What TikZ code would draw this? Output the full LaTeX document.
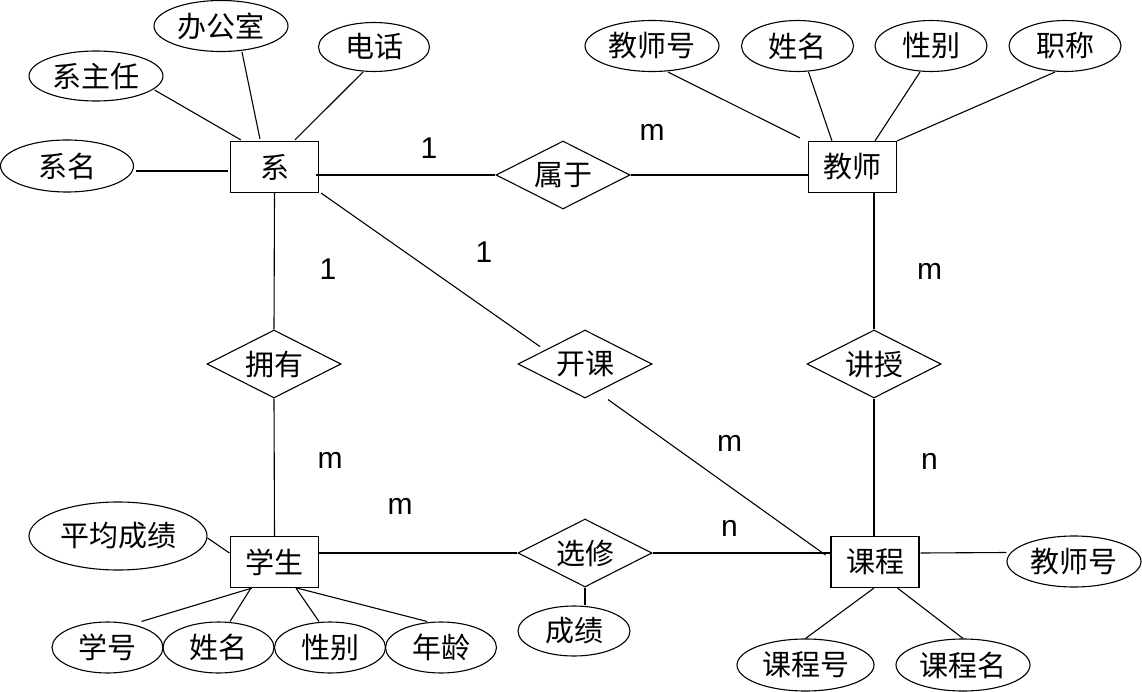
\documentclass[tikz,border=0pt]{standalone}
\usepackage{fontspec}
\setmainfont{Liberation Sans}
\newfontfamily\cjk{Noto Sans CJK SC}
\usetikzlibrary{shapes.geometric,calc}
\tikzset{
  entity/.style={draw, rectangle, line width=1.1pt, minimum width=88pt, minimum height=51pt, inner sep=0pt, font=\cjk\fontsize{29}{30}\selectfont},
  rel/.style={draw, diamond, aspect=2, line width=1.1pt, minimum width=134pt, minimum height=68pt, inner sep=0pt, font=\cjk\fontsize{29}{30}\selectfont},
  attr/.style={draw, ellipse, line width=1.1pt, minimum width=112pt, minimum height=51pt, inner sep=0pt, font=\cjk\fontsize{29}{30}\selectfont},
  card/.style={inner sep=0pt, font=\fontsize{30}{32}\selectfont},
  conn/.style={line width=1.1pt},
}
\begin{document}
\begin{tikzpicture}[x=1pt,y=-1pt]
\useasboundingbox (0,0) rectangle (1142,692);
% entities
\node[entity] (xi) at (274.5,167) {系};
\node[entity] (js) at (852.5,167) {教师};
\node[entity] (xs) at (274.5,562) {学生};
\node[entity] (kc) at (875,562) {课程};
% relationships
\node[rel] (sy) at (563,175) {属于};
\node[rel] (yy) at (274,364) {拥有};
\node[rel] (kk) at (585,364) {开课};
\node[rel] (jsh) at (874,364) {讲授};
\node[rel] (xx) at (585,553) {选修};
% attributes of 系
\node[attr, minimum width=134pt] (bgs) at (221,26) {办公室};
\node[attr, minimum width=111pt, minimum height=49pt] (dh) at (374,47) {电话};
\node[attr, minimum width=134pt, minimum height=50pt] (xzr) at (96,76) {系主任};
\node[attr, minimum width=133pt, minimum height=52pt] (xm) at (67,166) {系名};
% attributes of 教师
\node[attr, minimum width=134pt] (jsa) at (652,46) {教师号};
\node[attr] (jsb) at (797.5,46) {姓名};
\node[attr] (jsc) at (931,46) {性别};
\node[attr] (jsd) at (1065,46) {职称};
% attributes of 学生
\node[attr, minimum width=178pt, minimum height=68pt] (pj) at (118,536) {平均成绩};
\node[attr, minimum width=111pt] (xsa) at (107.5,647.5) {学号};
\node[attr, minimum width=111pt] (xsb) at (218.5,647.5) {姓名};
\node[attr, minimum width=111pt] (xsc) at (330,647.5) {性别};
\node[attr, minimum width=111pt] (xsd) at (441,647.5) {年龄};
% attribute of 选修
\node[attr, minimum height=50pt] (cj) at (574,631) {成绩};
% attributes of 课程
\node[attr, minimum width=134pt] (kca) at (1074,561.5) {教师号};
\node[attr, minimum width=137pt, minimum height=52pt] (kcb) at (805.5,665) {课程号};
\node[attr, minimum width=134pt, minimum height=52pt] (kcc) at (963,665) {课程名};
% cardinalities
\node[card] (c1) at (429,148) {1};
\node[card] (c2) at (652,132) {m};
\node[card] (c3) at (328,269) {1};
\node[card] (c4) at (484,252) {1};
\node[card] (c5) at (929.5,271) {m};
\node[card] (c6) at (330,460) {m};
\node[card] (c7) at (400,506) {m};
\node[card] (c8) at (729.5,443) {m};
\node[card] (c9) at (929.5,461) {n};
\node[card] (c10) at (729.5,528) {n};
% connectors: 系
\draw[conn] ($(xzr.east)+(-9,14)$) -- ($(xi.north west)+(11,-1)$);
\draw[conn] ($(bgs.south)+(21,0)$) -- ($(xi.north west)+(30,-2)$);
\draw[conn] ($(dh.south)+(-11,0)$) -- ($(xi.north west)+(65,-1)$);
\draw[conn] ($(xm.east)+(2,5)$) -- ($(xi.west)+(-2,4)$);
\draw[conn] ($(xi.east)+(-3,8)$) -- (sy.west);
\draw[conn] (sy.east) -- ($(js.west)+(0,8)$);
\draw[conn] (xi.south) -- (yy.north);
\draw[conn] (yy.south) -- (xs.north);
\draw[conn] ($(xi.south east)+(2,0)$) -- ($(kk.west)+(22.7,-17.3)$);
\draw[conn] ($(kk.south)+(23,1)$) -- ($(kc.west)+(-5,-7)$);
% connectors: 教师
\draw[conn] ($(jsa.south)+(16,0)$) -- ($(js.north west)+(-8,-3)$);
\draw[conn] ($(jsb.south)+(11,0)$) -- ($(js.north west)+(24,0)$);
\draw[conn] ($(jsc.south)+(-11,0)$) -- ($(js.north west)+(67,0)$);
\draw[conn] ($(jsd.south)+(-10,0)$) -- (js.north east);
\draw[conn] (jsh.north |- js.south) -- (jsh.north);
\draw[conn] (jsh.south) -- (jsh.south |- kc.north);
% connectors: 学生
\draw[conn] (pj.east) ++(0,2) -- ($(xs.west)+(-0.5,-9)$);
\draw[conn] ($(xs.east)+(0,-9)$) -- (xx.west);
\draw[conn] ($(xsa.north)+(34,0)$) -- ($(xs.south west)+(22,0)$);
\draw[conn] ($(xsb.north)+(11.5,0)$) -- ($(xs.south west)+(21,0)$);
\draw[conn] ($(xsc.north)+(-11,0)$) -- ($(xs.south west)+(66,0)$);
\draw[conn] ($(xsd.north)+(-14,0)$) -- ($(xs.south west)+(67,0)$);
% connectors: 选修 and 课程
\draw[conn] (xx.east) -- ($(kc.west)+(0,-9)$);
\draw[conn] (xx.south) -- (xx.south |- cj.north);
\draw[conn] ($(kc.east)+(1,-9)$) -- ($(kca.west)+(0,-9)$);
\draw[conn] (kcb.north) -- ($(kc.south)+(-1,0)$);
\draw[conn] (kcc.north) -- ($(kc.south)+(22.5,0)$);
\end{tikzpicture}
\end{document}
